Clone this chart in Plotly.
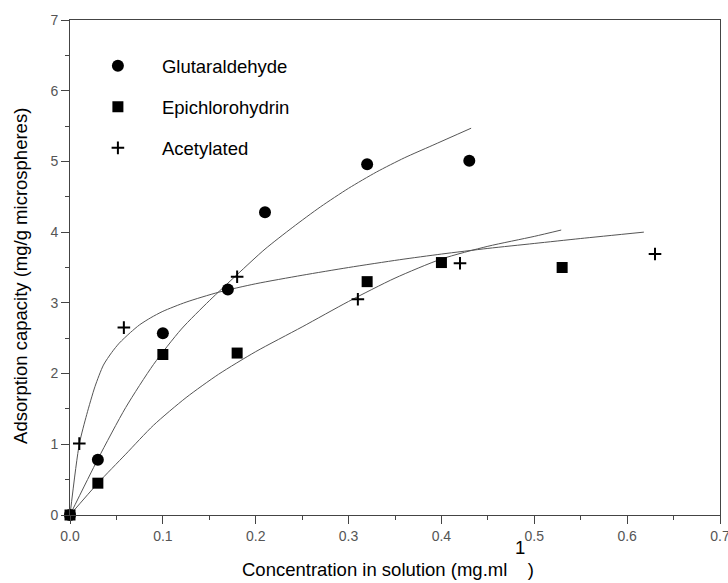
import plotly.graph_objects as go

# Measured adsorption data (concentration in mg/ml, capacity in mg/g microspheres)
glut_x = [0.0, 0.03, 0.10, 0.17, 0.21, 0.32, 0.43]
glut_y = [0.0, 0.78, 2.57, 3.19, 4.28, 4.96, 5.01]

epi_x = [0.0, 0.03, 0.10, 0.18, 0.32, 0.40, 0.53]
epi_y = [0.0, 0.45, 2.27, 2.29, 3.30, 3.57, 3.50]

acet_x = [0.01, 0.058, 0.18, 0.31, 0.42, 0.63]
acet_y = [1.01, 2.65, 3.37, 3.05, 3.56, 3.69]

# Fitted isotherm curves
glut_fit_x = [0, 0.03, 0.06, 0.09, 0.12, 0.15, 0.18, 0.21, 0.24, 0.27, 0.30, 0.33, 0.36, 0.39, 0.432]
glut_fit_y = [0, 0.79, 1.52, 2.13, 2.63, 3.03, 3.40, 3.76, 4.07, 4.36, 4.62, 4.85, 5.05, 5.225, 5.47]

epi_fit_x = [0, 0.03, 0.06, 0.09, 0.125, 0.16, 0.20, 0.25, 0.30, 0.35, 0.40, 0.45, 0.50, 0.529]
epi_fit_y = [0, 0.45, 0.86, 1.27, 1.66, 1.99, 2.31, 2.66, 3.02, 3.35, 3.62, 3.80, 3.94, 4.03]

acet_fit_x = [0, 0.01, 0.018, 0.027, 0.036, 0.045, 0.053, 0.065, 0.075, 0.087, 0.10, 0.125,
              0.16, 0.20, 0.25, 0.30, 0.355, 0.40, 0.45, 0.50, 0.55, 0.618]
acet_fit_y = [0, 1.00, 1.42, 1.82, 2.12, 2.30, 2.43, 2.58, 2.69, 2.79, 2.88, 3.01,
              3.15, 3.27, 3.39, 3.50, 3.61, 3.69, 3.77, 3.84, 3.91, 4.00]

x_ticks = [0.0, 0.1, 0.2, 0.3, 0.4, 0.5, 0.6, 0.7]
y_ticks = [0, 1, 2, 3, 4, 5, 6, 7]

SANS = "Arial, Liberation Sans, sans-serif"
NARROW = "Liberation Sans Narrow, Arial Narrow, sans-serif"
CURVE = dict(color="#555555", width=1, shape="spline", smoothing=0.7)

fig = go.Figure()

for fx, fy in [(glut_fit_x, glut_fit_y), (epi_fit_x, epi_fit_y), (acet_fit_x, acet_fit_y)]:
    fig.add_trace(go.Scatter(x=fx, y=fy, mode="lines", line=CURVE,
                             showlegend=False, hoverinfo="skip", cliponaxis=False))

fig.add_trace(go.Scatter(x=glut_x, y=glut_y, mode="markers", name="Glutaraldehyde",
                         legendgroup="g", cliponaxis=False,
                         marker=dict(symbol="circle", size=12, color="black")))
fig.add_trace(go.Scatter(x=epi_x, y=epi_y, mode="markers", name="Epichlorohydrin",
                         legendgroup="e", cliponaxis=False,
                         marker=dict(symbol="square", size=11, color="black")))
fig.add_trace(go.Scatter(x=acet_x, y=acet_y, mode="markers", name="Acetylated",
                         legendgroup="a", cliponaxis=False,
                         marker=dict(symbol="cross-thin", size=9, color="black",
                                     line=dict(color="black", width=2))))

axis_common = dict(
    showline=True, linecolor="#444444", linewidth=1, mirror=True,
    showgrid=False, zeroline=False, automargin=False,
    ticks="outside", ticklen=8, tickwidth=1, tickcolor="#444444",
    tickfont=dict(family=NARROW, size=14, color="#555555"),
    ticklabeloverflow="allow",
)

fig.update_xaxes(range=[0, 0.7], tickvals=x_ticks, tickformat=".1f",
                 minor=dict(dtick=0.05, ticks="outside", ticklen=4, tickcolor="#444444"),
                 **axis_common)
fig.update_yaxes(range=[0, 7], tickvals=y_ticks, tickformat="d",
                 minor=dict(dtick=0.5, ticks="outside", ticklen=4, tickcolor="#444444"),
                 **axis_common)

fig.update_layout(
    width=728, height=583,
    margin=dict(l=70, r=8, t=20, b=68, autoexpand=False),
    paper_bgcolor="white", plot_bgcolor="white",
    showlegend=True,
    legend=dict(x=0.006, y=0.945, xanchor="left", yanchor="top",
                font=dict(family=SANS, size=18.5, color="black"),
                bgcolor="rgba(0,0,0,0)", itemwidth=78, tracegroupgap=14,
                itemclick=False),
    annotations=[
        dict(text="Concentration in solution (mg.ml\u00a0\u00a0\u00a0\u00a0)",
             xref="paper", yref="paper", x=0.489, y=-0.11,
             xanchor="center", yanchor="middle", showarrow=False,
             font=dict(family=SANS, size=18.5, color="black")),
        dict(text="1", xref="paper", yref="paper", x=0.692, y=-0.066,
             xanchor="center", yanchor="middle", showarrow=False,
             font=dict(family=SANS, size=18.5, color="black")),
        dict(text="Adsorption capacity (mg/g microspheres)",
             xref="paper", yref="paper", x=-0.0754, y=0.483, textangle=-90,
             xanchor="center", yanchor="middle", showarrow=False,
             font=dict(family=SANS, size=18.5, color="black")),
    ],
)

fig.write_html("out.html")
